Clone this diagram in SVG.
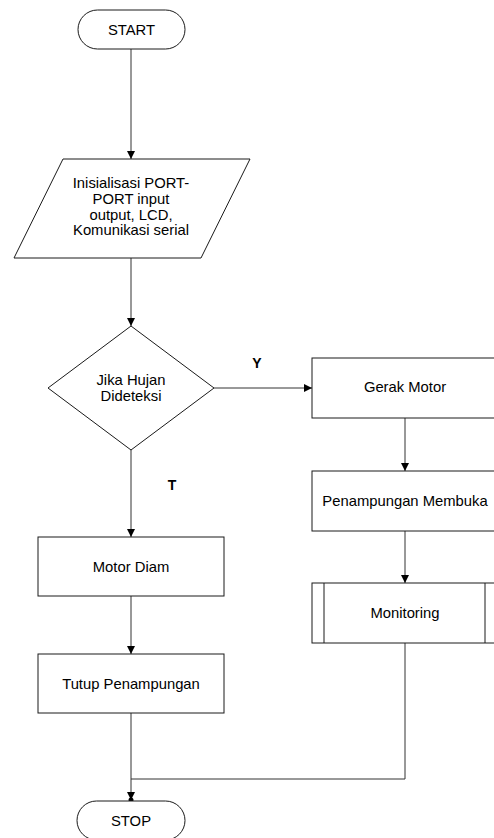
<svg xmlns="http://www.w3.org/2000/svg" width="494" height="838" viewBox="0 0 494 838">
<style>
.s{fill:#fff;stroke:#1a1a1a;stroke-width:1}
.t{font-family:"Liberation Sans",Arial,sans-serif;font-size:14.8px;fill:#000;text-anchor:middle}
.b{font-family:"Liberation Sans",Arial,sans-serif;font-size:14px;font-weight:bold;fill:#000;text-anchor:middle}
.c{fill:none;stroke:#333;stroke-width:1}
</style>
<defs>
<marker id="a" viewBox="0 0 10 10" refX="10" refY="5" markerWidth="8" markerHeight="8" markerUnits="userSpaceOnUse" orient="auto">
<path d="M0,0 L10,5 L0,10 z" fill="#000"/>
</marker>
</defs>
<rect width="494" height="838" fill="#fff"/>
<g id="connectors">
<line class="c" x1="131" y1="49" x2="131" y2="159" marker-end="url(#a)"/>
<line class="c" x1="131" y1="258" x2="131" y2="326" marker-end="url(#a)"/>
<line class="c" x1="214" y1="388" x2="312" y2="388" marker-end="url(#a)"/>
<line class="c" x1="131" y1="450" x2="131" y2="537" marker-end="url(#a)"/>
<line class="c" x1="405" y1="418" x2="405" y2="471" marker-end="url(#a)"/>
<line class="c" x1="405" y1="531" x2="405" y2="583" marker-end="url(#a)"/>
<line class="c" x1="131" y1="596" x2="131" y2="654" marker-end="url(#a)"/>
<line class="c" x1="131" y1="713" x2="131" y2="800" marker-end="url(#a)"/>
<polyline class="c" points="405,643 405,779 131,779"/>
<circle cx="131" cy="800" r="2.5" fill="#000"/>
</g>
<g id="start">
<rect class="s" x="78" y="10" width="107" height="39" rx="19.5"/>
<text class="t" x="131.5" y="35">START</text>
</g>
<g id="init">
<polygon class="s" points="63,159 250,159 201,258 14,258"/>
<text class="t" x="131" y="188">Inisialisasi PORT-</text>
<text class="t" x="131" y="204">PORT input</text>
<text class="t" x="131" y="219.5">output, LCD,</text>
<text class="t" x="131" y="235">Komunikasi serial</text>
</g>
<g id="decision">
<polygon class="s" points="131,326 214,388 131,450 48,388"/>
<text class="t" x="131" y="385">Jika Hujan</text>
<text class="t" x="131" y="401">Dideteksi</text>
</g>
<g id="label-y"><text class="b" x="257" y="368">Y</text></g>
<g id="label-t"><text class="b" x="172" y="490">T</text></g>
<g id="gerak">
<rect class="s" x="312" y="358" width="186" height="60"/>
<text class="t" x="405" y="392">Gerak Motor</text>
</g>
<g id="penampungan">
<rect class="s" x="312" y="471" width="186" height="60"/>
<text class="t" x="405" y="506">Penampungan Membuka</text>
</g>
<g id="monitoring">
<rect class="s" x="312" y="583" width="186" height="60"/>
<line class="s" x1="324" y1="583" x2="324" y2="643"/>
<line class="s" x1="485" y1="583" x2="485" y2="643"/>
<text class="t" x="405" y="618">Monitoring</text>
</g>
<g id="motor-diam">
<rect class="s" x="38" y="537" width="186" height="59"/>
<text class="t" x="131" y="572">Motor Diam</text>
</g>
<g id="tutup">
<rect class="s" x="38" y="654" width="186" height="59"/>
<text class="t" x="131" y="689">Tutup Penampungan</text>
</g>
<g id="stop">
<rect class="s" x="77" y="801" width="108" height="39" rx="19.5"/>
<text class="t" x="131" y="826">STOP</text>
</g>
</svg>
